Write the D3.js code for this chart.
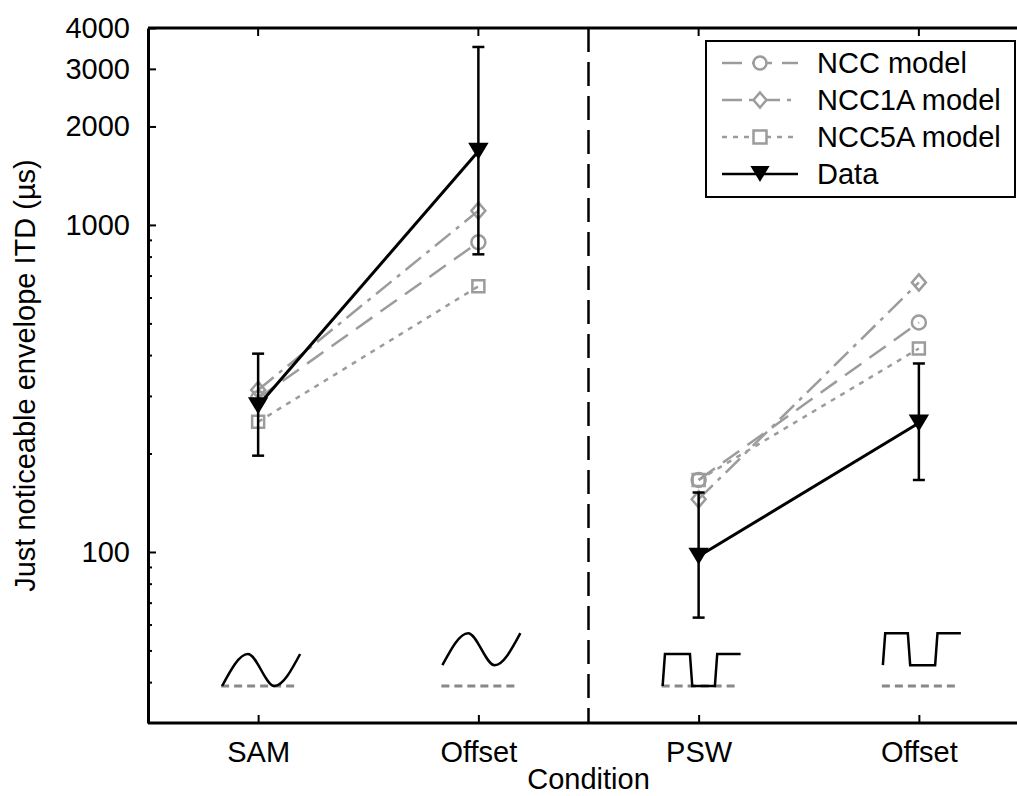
<!DOCTYPE html>
<html>
<head>
<meta charset="utf-8">
<script src="https://d3js.org/d3.v7.min.js"></script>
<style>
  body { margin: 0; background: #fff; }
  svg text { font-family: "Liberation Sans", Arial, Helvetica, sans-serif; fill: #000; }
</style>
</head>
<body>
<div class="graph"></div>
<script>
// categories on the x axis
var categories = ['SAM', 'Offset', 'PSW', 'Offset'];
var catIndex = [1, 2, 3, 4];

// measured thresholds (µs) with error bars
var dataMean  = [280, 1680, 97, 248];
var dataUpper = [404, 3500, 152, 377];
var dataLower = [197, 813, 63, 166];

// model predictions (µs)
var nccModel   = [295, 885, 166, 503];
var ncc1aModel = [313, 1105, 145, 667];
var ncc5aModel = [250, 649, 166, 419];

// y ticks
var yMajorTicks = [100, 1000, 2000, 3000, 4000];
var yMinorTicks = [40, 50, 60, 70, 80, 90, 200, 300, 400, 500, 600, 700, 800, 900];

// waveform glyphs under each condition: [x fraction, level]
var sineGlyph = [[0, 0], [0.33, 1], [0.67, 0], [1, 1]];
var sineOffsetGlyph = [[0, 0.65], [0.33, 1.65], [0.67, 0.65], [1, 1.65]];
var squareGlyph = [[0, 0], [0.03, 1], [0.35, 1], [0.38, 0], [0.67, 0], [0.70, 1], [1, 1]];
var squareOffsetGlyph = [[0, 0.65], [0.03, 1.65], [0.32, 1.65], [0.35, 0.65], [0.67, 0.65], [0.70, 1.65], [1, 1.65]];
var glyphs = [sineGlyph, sineOffsetGlyph, squareGlyph, squareOffsetGlyph];

var W = 1017, H = 796;
var plotLeft = 148, plotTop = 28, plotBottom = 723;
var gray = '#9c9c9c';

var svg = d3.select('.graph').append('svg')
    .attr('width', W)
    .attr('height', H);

var x = d3.scaleLinear().domain([0.5, 4.5]).range([plotLeft, 1029]);
var y = d3.scaleLog().domain([30, 4000]).range([plotBottom, plotTop]);

// glyph scales
var gx = d3.scaleLinear().domain([0, 1]).range([-36, 42]);
var gy = d3.scaleLinear().domain([0, 1]).range([686, 654]);

// frame: top line with ticks
svg.append('line')
    .attr('x1', plotLeft).attr('x2', W)
    .attr('y1', plotTop).attr('y2', plotTop)
    .attr('stroke', '#000').attr('stroke-width', 3);

svg.selectAll('.toptick')
    .data(catIndex)
    .enter()
    .append('line')
    .attr('class', 'toptick')
    .attr('x1', function(d) { return x(d); })
    .attr('x2', function(d) { return x(d); })
    .attr('y1', plotTop).attr('y2', plotTop + 8)
    .attr('stroke', '#000').attr('stroke-width', 2);

// divider between SAM and PSW groups
svg.append('line')
    .attr('x1', x(2.5)).attr('x2', x(2.5))
    .attr('y1', plotTop).attr('y2', plotBottom)
    .attr('stroke', '#000')
    .attr('stroke-width', 2.5)
    .attr('stroke-dasharray', '24,10');

// x axis
var xAxis = svg.append('g')
    .attr('transform', 'translate(0,' + plotBottom + ')')
    .call(d3.axisBottom(x)
        .tickValues(catIndex)
        .tickSizeInner(-8)
        .tickSizeOuter(0)
        .tickPadding(18)
        .tickFormat(function(d) { return categories[d - 1]; }));

xAxis.select('.domain').attr('stroke-width', 3).attr('d', 'M' + plotLeft + ',0H' + W);
xAxis.selectAll('.tick line').attr('stroke-width', 2);
xAxis.selectAll('text').style('font-size', '29px');

// y axis
var yAxis = svg.append('g')
    .attr('transform', 'translate(' + plotLeft + ',0)')
    .call(d3.axisLeft(y)
        .tickValues(yMajorTicks)
        .tickSizeInner(-8)
        .tickSizeOuter(0)
        .tickPadding(18)
        .tickFormat(d3.format('d')));

yAxis.select('.domain').attr('stroke-width', 3);
yAxis.selectAll('.tick line').attr('stroke-width', 2);
yAxis.selectAll('text').style('font-size', '29px');

var yMinor = svg.append('g')
    .attr('transform', 'translate(' + plotLeft + ',0)')
    .call(d3.axisLeft(y)
        .tickValues(yMinorTicks)
        .tickSizeInner(-4)
        .tickSizeOuter(0)
        .tickFormat(''));

yMinor.select('.domain').remove();
yMinor.selectAll('.tick line').attr('stroke-width', 2);

// axis titles
svg.append('text')
    .attr('x', x(2.5))
    .attr('y', 789)
    .attr('text-anchor', 'middle')
    .style('font-size', '29px')
    .text('Condition');

svg.append('text')
    .attr('transform', 'translate(35,' + ((plotTop + plotBottom) / 2) + ') rotate(-90)')
    .attr('text-anchor', 'middle')
    .style('font-size', '29px')
    .text('Just noticeable envelope ITD (\u00b5s)');

// waveform glyphs
var glyphLine = d3.line()
    .x(function(d) { return gx(d[0]); })
    .y(function(d) { return gy(d[1]); });

glyphs.forEach(function(g, i) {
    var grp = svg.append('g')
        .attr('transform', 'translate(' + x(catIndex[i]) + ',0)');

    grp.append('line')
        .attr('x1', -37).attr('x2', 39)
        .attr('y1', gy(0)).attr('y2', gy(0))
        .attr('stroke', '#888')
        .attr('stroke-width', 3)
        .attr('stroke-dasharray', '8,5');

    grp.append('path')
        .datum(g)
        .attr('fill', 'none')
        .attr('stroke', '#000')
        .attr('stroke-width', 2.5)
        .attr('d', i < 2 ? glyphLine.curve(d3.curveMonotoneX)(g) : glyphLine.curve(d3.curveLinear)(g));
});

// series definitions
var series = [
    { name: 'NCC model', values: nccModel, dash: '20,10', marker: 'circle' },
    { name: 'NCC1A model', values: ncc1aModel, dash: '20,7,4,7', marker: 'diamond' },
    { name: 'NCC5A model', values: ncc5aModel, dash: '5,6', marker: 'square' }
];

function markerPath(type, s) {
    switch (type) {
        case 'circle':
            return d3.symbol().type(d3.symbolCircle).size(Math.PI * s * s)();
        case 'diamond':
            return 'M0,' + (-s * 1.15) + 'L' + s + ',0L0,' + (s * 1.15) + 'L' + (-s) + ',0Z';
        case 'square':
            return 'M' + (-s) + ',' + (-s) + 'H' + s + 'V' + s + 'H' + (-s) + 'Z';
        case 'triangle':
            return 'M' + (-s * 1.2) + ',' + (-s) + 'H' + (s * 1.2) + 'L0,' + s + 'Z';
    }
}

var pairs = [[0, 1], [2, 3]];

series.forEach(function(s) {
    pairs.forEach(function(p) {
        svg.append('line')
            .attr('x1', x(catIndex[p[0]])).attr('y1', y(s.values[p[0]]))
            .attr('x2', x(catIndex[p[1]])).attr('y2', y(s.values[p[1]]))
            .attr('stroke', gray)
            .attr('stroke-width', 2.5)
            .attr('stroke-dasharray', s.dash);
    });
});

series.forEach(function(s) {
    svg.selectAll(null)
        .data(s.values)
        .enter()
        .append('path')
        .attr('transform', function(d, i) { return 'translate(' + x(catIndex[i]) + ',' + y(d) + ')'; })
        .attr('d', markerPath(s.marker, s.marker === 'square' ? 6 : 7))
        .attr('fill', 'none')
        .attr('stroke', gray)
        .attr('stroke-width', 2.5);
});

// measured data
pairs.forEach(function(p) {
    svg.append('line')
        .attr('x1', x(catIndex[p[0]])).attr('y1', y(dataMean[p[0]]))
        .attr('x2', x(catIndex[p[1]])).attr('y2', y(dataMean[p[1]]))
        .attr('stroke', '#000')
        .attr('stroke-width', 3);
});

var bars = svg.selectAll('.errbar')
    .data(dataMean)
    .enter()
    .append('g')
    .attr('class', 'errbar')
    .attr('transform', function(d, i) { return 'translate(' + x(catIndex[i]) + ',0)'; });

bars.append('line')
    .attr('y1', function(d, i) { return y(dataUpper[i]); })
    .attr('y2', function(d, i) { return y(dataLower[i]); })
    .attr('stroke', '#000').attr('stroke-width', 2.5);

bars.append('line')
    .attr('x1', -6).attr('x2', 6)
    .attr('y1', function(d, i) { return y(dataUpper[i]); })
    .attr('y2', function(d, i) { return y(dataUpper[i]); })
    .attr('stroke', '#000').attr('stroke-width', 2.5);

bars.append('line')
    .attr('x1', -6).attr('x2', 6)
    .attr('y1', function(d, i) { return y(dataLower[i]); })
    .attr('y2', function(d, i) { return y(dataLower[i]); })
    .attr('stroke', '#000').attr('stroke-width', 2.5);

bars.append('path')
    .attr('transform', function(d) { return 'translate(0,' + y(d) + ')'; })
    .attr('d', markerPath('triangle', 8.5))
    .attr('fill', '#000');

// legend
var legend = svg.append('g');

legend.append('rect')
    .attr('x', 706).attr('y', 41)
    .attr('width', 309).attr('height', 156)
    .attr('fill', '#fff')
    .attr('stroke', '#000')
    .attr('stroke-width', 2);

var legendItems = series.concat([{ name: 'Data', dash: null, marker: 'triangle' }]);

var item = legend.selectAll('.item')
    .data(legendItems)
    .enter()
    .append('g')
    .attr('class', 'item')
    .attr('transform', function(d, i) { return 'translate(0,' + (63 + i * 37) + ')'; });

item.append('line')
    .attr('x1', 722).attr('x2', 798)
    .attr('stroke', function(d) { return d.dash ? gray : '#000'; })
    .attr('stroke-width', 2.5)
    .attr('stroke-dasharray', function(d) { return d.dash; });

item.append('path')
    .attr('transform', 'translate(760,0)')
    .attr('d', function(d) { return markerPath(d.marker, d.marker === 'triangle' ? 8 : 6.5); })
    .attr('fill', function(d) { return d.dash ? '#fff' : '#000'; })
    .attr('stroke', function(d) { return d.dash ? gray : 'none'; })
    .attr('stroke-width', 2.5);

item.append('text')
    .attr('x', 817)
    .attr('dy', '0.36em')
    .style('font-size', '29px')
    .text(function(d) { return d.name; });
</script>
</body>
</html>
